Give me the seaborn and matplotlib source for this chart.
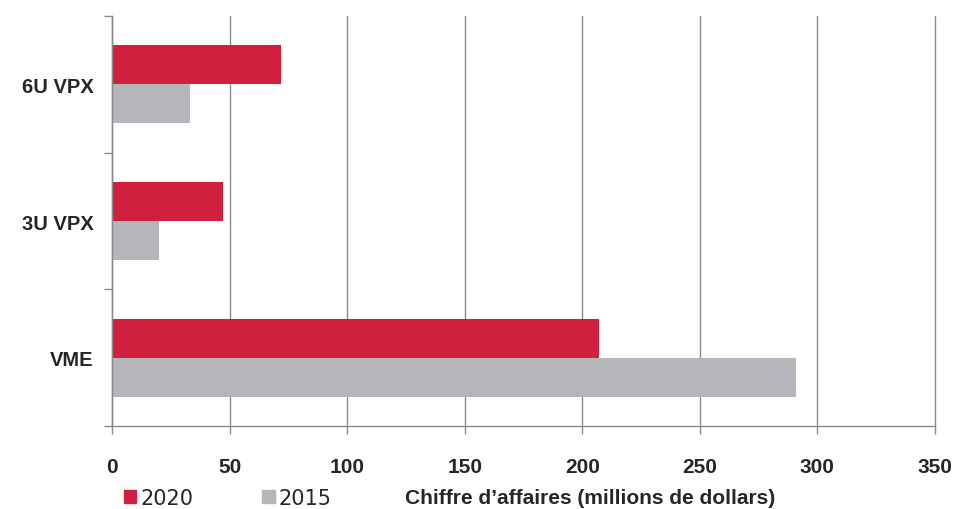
import pandas as pd
import seaborn as sns
import matplotlib.pyplot as plt
from matplotlib.patches import Patch

# data
categories = ["6U VPX", "3U VPX", "VME"]
sales_2020 = [72, 47, 207]
sales_2015 = [33, 20, 291]
years = ["2020", "2015"]
xticks = [0, 50, 100, 150, 200, 250, 300, 350]

df = pd.DataFrame({
    "segment": categories * 2,
    "year": [years[0]] * 3 + [years[1]] * 3,
    "value": sales_2020 + sales_2015,
})

sns.set_theme(style="white")
plt.rcParams['font.family'] = ['Liberation Sans Narrow', 'Liberation Sans', 'DejaVu Sans']

red = "#D01F3F"
grey = "#B4B6BA"

fig = plt.figure(figsize=(9.54, 5.10), dpi=100)
ax = fig.add_axes([0.1174, 0.1627, 0.8626, 0.804])

sns.barplot(data=df, y="segment", x="value", hue="year", order=categories,
            hue_order=years, palette=[red, grey], orient="h", width=0.57,
            saturation=1, legend=False, linewidth=0, ax=ax)

ax.set_xlim(0, 350)
ax.set_ylim(2.5, -0.5)
ax.set_xticks(xticks)
ax.set_xticklabels([str(t) for t in xticks], fontsize=15, fontweight="bold")
ax.set_yticks(range(len(categories)))
ax.set_yticklabels(categories, fontsize=14.5, fontweight="bold",
                   family=['Liberation Sans', 'DejaVu Sans'])
ax.set_yticks([-0.5, 0.5, 1.5, 2.5], minor=True)
ax.tick_params(axis="y", which="major", length=0, pad=13)
ax.tick_params(axis="y", which="minor", length=6, width=1, color="#8a8a8c", left=True)
ax.tick_params(axis="x", length=6, width=1, color="#8a8a8c", bottom=True, pad=16)

ax.grid(axis="x", color="#8a8a8c", linewidth=1)
for line in ax.get_xgridlines():
    line.set_clip_on(False)
ax.set_axisbelow(True)
for s in ["top", "right"]:
    ax.spines[s].set_visible(False)
for s in ["left", "bottom"]:
    ax.spines[s].set_color("#8a8a8c")
    ax.spines[s].set_linewidth(1)

ax.set_xlabel("")
ax.set_ylabel("")

# legend + axis title along the bottom
handles = [Patch(color=red, label="2020"), Patch(color=grey, label="2015")]
fig.legend(handles=handles, loc="lower left", bbox_to_anchor=(0.110, -0.035),
           ncol=2, frameon=False, handlelength=0.6, handleheight=0.6,
           handletextpad=0.2, columnspacing=3.3,
           prop={'family': ['Liberation Sans Narrow', 'DejaVu Sans'], 'size': 15})
fig.text(0.425, 0.012, "Chiffre d\u2019affaires (millions de dollars)",
         fontsize=15, fontweight="bold")

plt.savefig("out.png", dpi=100)
